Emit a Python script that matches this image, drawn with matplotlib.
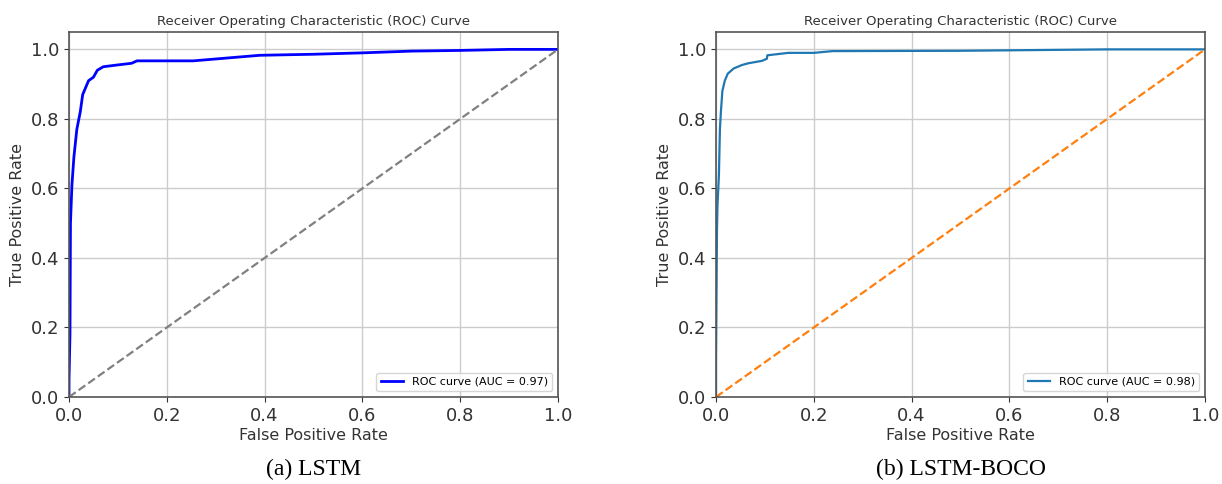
import matplotlib.pyplot as plt

# ROC points (FPR, TPR)
lstm_fpr = [0.0, 0.0, 0.002, 0.003, 0.006, 0.010, 0.016, 0.023, 0.028, 0.031, 0.040,
            0.050, 0.058, 0.070, 0.098, 0.128, 0.139, 0.254, 0.39, 0.50, 0.60,
            0.70, 0.80, 0.90, 1.0]
lstm_tpr = [0.0, 0.05, 0.18, 0.50, 0.61, 0.69, 0.77, 0.82, 0.87, 0.88, 0.91,
            0.92, 0.94, 0.95, 0.955, 0.96, 0.967, 0.967, 0.983, 0.986, 0.99,
            0.995, 0.997, 1.0, 1.0]

boco_fpr = [0.0, 0.0, 0.002, 0.003, 0.005, 0.006, 0.008, 0.010, 0.013, 0.018, 0.024,
            0.036, 0.053, 0.066, 0.094, 0.104, 0.105, 0.148, 0.20, 0.238, 0.50,
            0.80, 1.0]
boco_tpr = [0.0, 0.1, 0.48, 0.55, 0.61, 0.64, 0.77, 0.82, 0.88, 0.91, 0.93,
            0.945, 0.955, 0.96, 0.967, 0.973, 0.983, 0.99, 0.99, 0.995, 0.996,
            1.0, 1.0]

panels = [
    (lstm_fpr, lstm_tpr, 0.97, "blue", 2.0, "gray", "(a) LSTM"),
    (boco_fpr, boco_tpr, 0.98, "#1f77b4", 1.6, "#ff7f0e", "(b) LSTM-BOCO"),
]
ticks = [0.0, 0.2, 0.4, 0.6, 0.8, 1.0]

fig = plt.figure(figsize=(12.22, 4.84), dpi=100)
lefts = [69 / 1222, 716 / 1222]
w = 489 / 1222
h = 365 / 484
bottom = (484 - 397) / 484

for left, (fpr, tpr, auc, col, lw, dcol, cap) in zip(lefts, panels):
    ax = fig.add_axes([left, bottom, w, h])
    ax.plot(fpr, tpr, color=col, lw=lw, label=f"ROC curve (AUC = {auc:.2f})")
    ax.plot([0, 1], [0, 1], color=dcol, lw=1.6, linestyle="--")
    ax.set_xlim(0, 1)
    ax.set_ylim(0, 1.05)
    ax.set_xticks(ticks)
    ax.set_yticks(ticks)
    ax.tick_params(labelsize=13, colors="#333333")
    ax.grid(True, color="#cccccc", lw=1)
    for s in ax.spines.values():
        s.set_color("#555555")
        s.set_linewidth(1.2)
    ax.set_xlabel("False Positive Rate", fontsize=11.5, color="#333333", labelpad=2)
    ax.set_ylabel("True Positive Rate", fontsize=11.5, color="#333333")
    ax.set_title("Receiver Operating Characteristic (ROC) Curve", fontsize=9.5,
                 color="#333333", pad=5)
    ax.legend(loc="lower right", fontsize=8)
    fig.text(left + w / 2, 15 / 484, cap, ha="center", va="center",
             fontsize=17, family="Liberation Serif")

fig.savefig("out.png", dpi=100)
